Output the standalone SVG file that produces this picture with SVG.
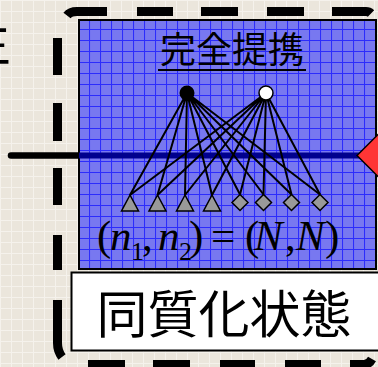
<svg xmlns="http://www.w3.org/2000/svg" width="378" height="367" viewBox="0 0 378 367">
  <defs>
    <pattern id="bgGrid" x="0" y="0" width="11" height="11" patternUnits="userSpaceOnUse">
      <rect width="11" height="11" fill="#ebe6dc"/>
      <path d="M0.5,0 V11 M0,0.5 H11" stroke="#f5f2ec" stroke-width="1"/>
    </pattern>
    <pattern id="blueGrid" x="78" y="18" width="11" height="11" patternUnits="userSpaceOnUse">
      <rect width="11" height="11" fill="#7878f0"/>
      <path d="M0.5,0 V11 M0,0.5 H11" stroke="#2c2cfc" stroke-width="1.1"/>
    </pattern>
    <style>
      .dash { fill: none; stroke: #000; stroke-width: 9; stroke-linecap: butt; }
      .edge { stroke: #000; stroke-width: 2; fill: none; }
      .tri { fill: #999; stroke: #000; stroke-width: 1.5; stroke-linejoin: miter; }
      .dia { fill: #999; stroke: #000; stroke-width: 1.5; }
      .cjk { font-family: "Noto Sans CJK JP", "Noto Sans CJK SC", sans-serif; fill: #000; }
      .math { font-family: "Liberation Serif", "Times New Roman", serif; fill: #000; }
    </style>
  </defs>

  <rect width="378" height="367" fill="url(#bgGrid)"/>

  <!-- partial label at left edge -->
  <text class="cjk" x="-39" y="61" font-size="50">生</text>

  <!-- dashed rounded border -->
  <g id="dashed-border">
    <path class="dash" d="M67,15.5 Q70,11.5 77,11.5 L107,11.5 M137,11.5 H173 M201,11.5 H238 M267,11.5 H304 M332,11.5 H366 Q369,11.5 371,13.5"/>
    <path class="dash" d="M57.5,38 V75 M57.5,103 V141 M57.5,168 V205 M57.5,235 V270 M57.5,300 V343 Q57.5,351 62,357"/>
    <path class="dash" d="M88,364.5 H125 M153,364.5 H190 M220,364.5 H255 M285,364.5 H321 M350,364.5 H364 Q369,364.5 372,359"/>
  </g>

  <!-- left connector line -->
  <g id="connectors-outer">
    <line x1="11" y1="155.5" x2="80" y2="155.5" stroke="#000" stroke-width="6.5" stroke-linecap="round"/>
  </g>

  <!-- blue panel -->
  <g id="panel">
    <rect x="79" y="20" width="297" height="249" fill="url(#blueGrid)" stroke="#000" stroke-width="2"/>
    <line x1="79" y1="155.5" x2="360" y2="155.5" stroke="#00008e" stroke-width="6"/>
  </g>

  <!-- red diamond -->
  <g id="red-diamond">
    <polygon points="357,155.5 384,128.5 411,155.5 384,182.5" fill="#ff3535" stroke="#000" stroke-width="1.5"/>
  </g>

  <!-- title -->
  <g id="title">
    <text class="cjk" x="232" y="63" font-size="36" text-anchor="middle">完全提携</text>
    <line x1="158" y1="70" x2="306" y2="70" stroke="#000" stroke-width="2.2"/>
  </g>

  <!-- connectors -->
  <g id="connectors">
    <path class="edge" d="M187,93 L130,195 M187,93 L157.5,195 M187,93 L185,195 M187,93 L212,195 M187,93 L240,194.5 M187,93 L263.5,194.5 M187,93 L291.5,194.5 M187,93 L320,194.5"/>
    <path class="edge" d="M266,93 L130,195 M266,93 L157.5,195 M266,93 L185,195 M266,93 L212,195 M266,93 L240,194.5 M266,93 L263.5,194.5 M266,93 L291.5,194.5 M266,93 L320,194.5"/>
  </g>

  <!-- top nodes -->
  <g id="node-black"><circle cx="187" cy="93" r="7.5" fill="#000"/></g>
  <g id="node-white"><circle cx="266" cy="93" r="7" fill="#fff" stroke="#000" stroke-width="1.5"/></g>

  <!-- bottom nodes -->
  <g id="tri-1"><polygon class="tri" points="130,195 121.5,211 138.5,211"/></g>
  <g id="tri-2"><polygon class="tri" points="157.5,195 149,211 166,211"/></g>
  <g id="tri-3"><polygon class="tri" points="185,195 176.5,211 193.5,211"/></g>
  <g id="tri-4"><polygon class="tri" points="212,195 203.5,211 220.5,211"/></g>
  <g id="dia-1"><polygon class="dia" points="240,194.5 248,202.5 240,210.5 232,202.5"/></g>
  <g id="dia-2"><polygon class="dia" points="263.5,194.5 271.5,202.5 263.5,210.5 255.5,202.5"/></g>
  <g id="dia-3"><polygon class="dia" points="291.5,194.5 299.5,202.5 291.5,210.5 283.5,202.5"/></g>
  <g id="dia-4"><polygon class="dia" points="320,194.5 328,202.5 320,210.5 312,202.5"/></g>

  <!-- formula -->
  <g id="formula">
    <text class="math" y="250" font-size="43"><tspan x="97">(</tspan><tspan x="110" font-style="italic">n</tspan><tspan x="131" dy="10" font-size="26">1</tspan><tspan x="142" dy="-10">,</tspan><tspan x="158" font-style="italic">n</tspan><tspan x="179" dy="10" font-size="26">2</tspan><tspan x="189" dy="-10">)</tspan><tspan x="211">=</tspan><tspan x="245">(</tspan><tspan x="254" font-style="italic">N</tspan><tspan x="285">,</tspan><tspan x="296" font-style="italic">N</tspan><tspan x="325">)</tspan></text>
  </g>

  <!-- bottom label box -->
  <g id="label-box">
    <rect x="71.5" y="272.5" width="320" height="78" fill="#fff" stroke="#000" stroke-width="2"/>
    <text class="cjk" x="224" y="333" font-size="51" text-anchor="middle">同質化状態</text>
  </g>
</svg>
